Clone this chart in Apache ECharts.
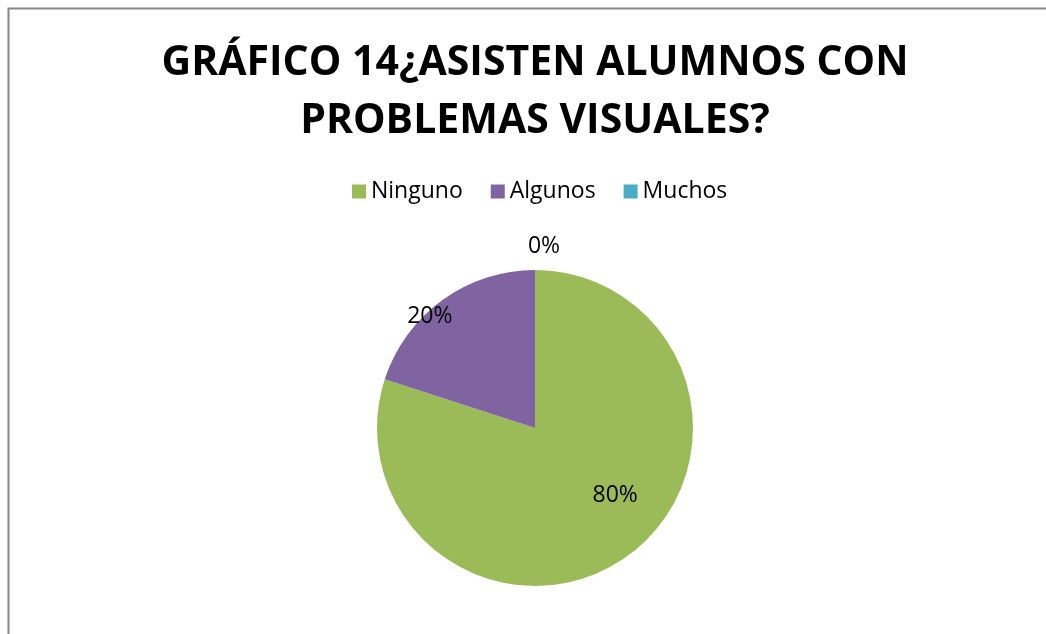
<!DOCTYPE html>
<html>
<head>
<meta charset="utf-8">
<script src="https://cdn.jsdelivr.net/npm/echarts@6/dist/echarts.min.js"></script>
<style>
  html, body { margin: 0; padding: 0; background: #fff; }
  #chart { width: 1046px; height: 634px; }
</style>
</head>
<body>
<div id="chart"></div>
<script>
"use strict";
var categories = ["Ninguno", "Algunos", "Muchos"];
var values = [80, 20, 0];
var colors = ["#9BBB59", "#8064A2", "#4BACC6"];
var labelOffsets = [[32, 1], [-57, -45], [9, -100]];

var chart = echarts.init(document.getElementById("chart"), null, { renderer: "canvas" });

var pieData = categories.map(function (name, i) {
    return {
        name: name,
        value: values[i],
        itemStyle: { color: colors[i] },
        label: { offset: labelOffsets[i] }
    };
});

var option = {
    backgroundColor: "#fff",
    animation: false,
    title: {
        text: "GRÁFICO 14¿ASISTEN ALUMNOS CON\nPROBLEMAS VISUALES?",
        left: 530,
        textAlign: "center",
        top: 29,
        textStyle: {
            fontFamily: "Open Sans",
            fontWeight: "bold",
            fontSize: 41,
            lineHeight: 58,
            color: "#000"
        }
    },
    legend: {
        data: categories,
        top: 175,
        left: 347,
        itemWidth: 14,
        itemHeight: 14,
        itemGap: 28,
        icon: "rect",
        textStyle: { fontFamily: "Open Sans", fontSize: 23, color: "#000" }
    },
    graphic: [{
        type: "rect",
        shape: { x: 8.5, y: 8.5, width: 1100, height: 700 },
        style: { fill: "none", stroke: "#888", lineWidth: 2 },
        silent: true
    }],
    series: [{
        type: "pie",
        center: [535, 428],
        radius: 158,
        startAngle: 90,
        clockwise: true,
        avoidLabelOverlap: false,
        minShowLabelAngle: 0,
        stillShowZeroSum: true,
        label: {
            show: true,
            position: "inside",
            formatter: "{d}%",
            fontFamily: "Open Sans",
            fontSize: 23,
            color: "#000"
        },
        labelLine: { show: false },
        emphasis: { disabled: true },
        data: pieData
    }]
};

chart.setOption(option);
</script>
</body>
</html>
